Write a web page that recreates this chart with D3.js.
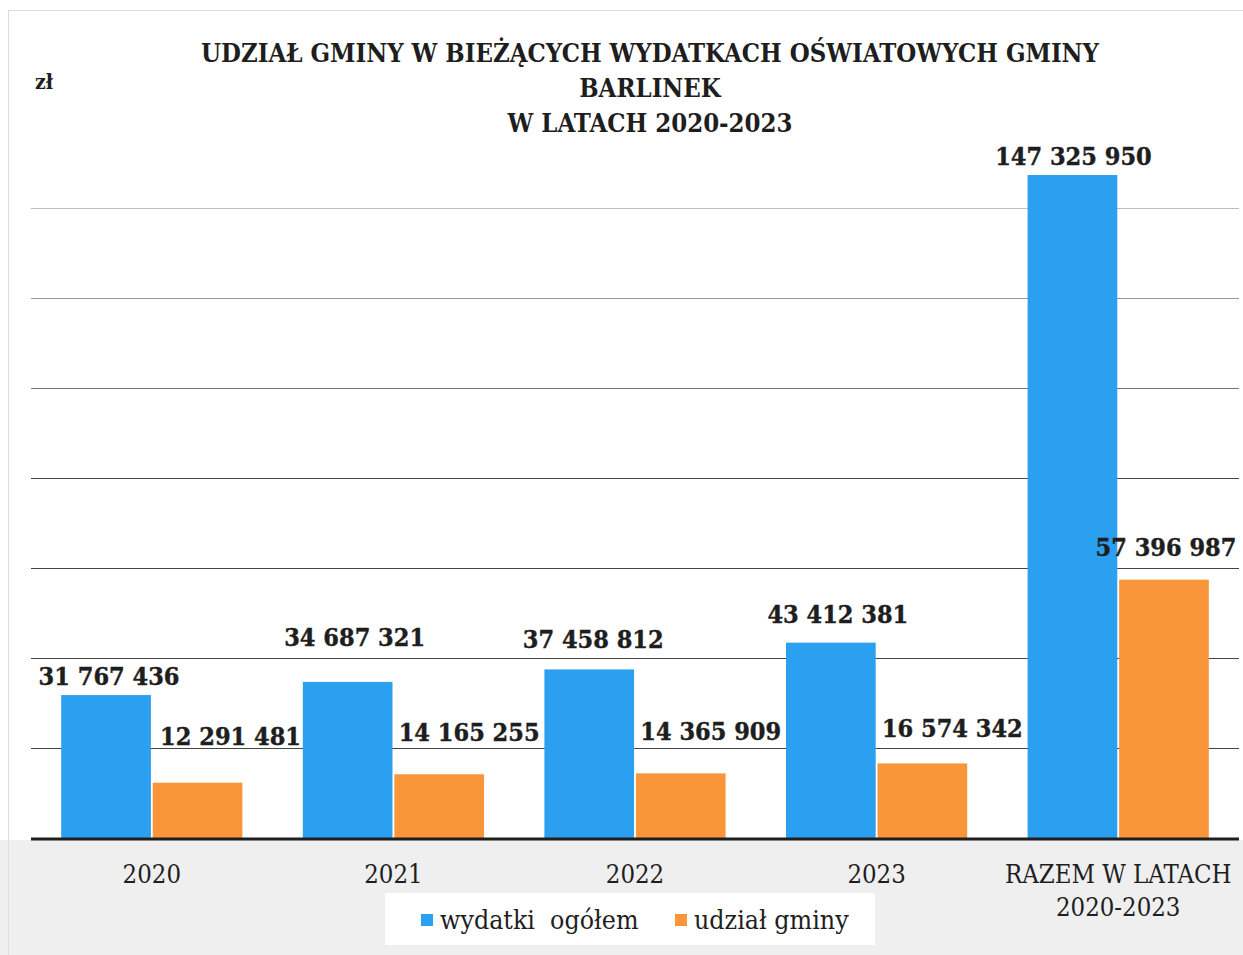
<!DOCTYPE html>
<html>
<head>
<meta charset="utf-8">
<script src="https://cdn.jsdelivr.net/npm/d3@7"></script>
<style>
  body { margin: 0; background: #fff; }
  svg { display: block; }
  text { font-family: "DejaVu Serif Condensed", "DejaVu Serif", serif; fill: #1e1e1e; }
</style>
</head>
<body>
<div id="chart"></div>
<script>
// data
var categories = ["2020", "2021", "2022", "2023", "RAZEM W LATACH|2020-2023"];
var wydatki = [31767436, 34687321, 37458812, 43412381, 147325950];
var udzial = [12291481, 14165255, 14365909, 16574342, 57396987];
var seriesNames = ["wydatki  ogółem", "udział gminy"];
var titleLines = ["UDZIAŁ GMINY W BIEŻĄCYCH WYDATKACH OŚWIATOWYCH GMINY", "BARLINEK", "W LATACH 2020-2023"];
var yTicks = [20000000, 40000000, 60000000, 80000000, 100000000, 120000000, 140000000];

// the labels were dragged by hand in the original, so nudge them
var blueNudge = [[3, -10], [7, -36], [4, -21], [7, -20], [1, -10]];
var orangeNudge = [[33, -38], [30, -33], [30, -33], [30, -26], [2, -24]];

var colors = ["#2b9ff0", "#f9963a"];

var W = 1243, H = 955;
var svg = d3.select("#chart").append("svg")
    .attr("width", W)
    .attr("height", H);

// scan-ish backdrop
svg.append("rect").attr("x", 0).attr("y", 0).attr("width", W).attr("height", H).attr("fill", "#ffffff");
svg.append("rect").attr("x", 0).attr("y", 840).attr("width", W).attr("height", H - 840).attr("fill", "#efefef");
svg.append("rect").attr("x", 8.5).attr("y", 10.5).attr("width", W - 8).attr("height", H - 10)
    .attr("fill", "none").attr("stroke", "#dcdcdc");

var x0 = d3.scaleBand()
    .domain(categories)
    .range([31, 1239])
    .paddingInner(0.25)
    .paddingOuter(0.125);

var x1 = d3.scaleBand()
    .domain([0, 1])
    .range([0, x0.bandwidth()])
    .paddingInner(0.02);

var y = d3.scaleLinear()
    .domain([0, 160000000])
    .range([838, 118]);

// gridlines (the scan fades them towards the top)
svg.append("g")
    .selectAll("line")
    .data(yTicks)
    .enter()
    .append("line")
    .attr("x1", 31)
    .attr("x2", 1239)
    .attr("y1", function(d) { return Math.round(y(d)) + 0.5; })
    .attr("y2", function(d) { return Math.round(y(d)) + 0.5; })
    .attr("stroke", "#444")
    .attr("stroke-opacity", function(d, i) { return i < 4 ? 1 : 0.75 - (i - 4) * 0.2; })
    .attr("stroke-width", 1.2);

var rows = categories.map(function(c, i) { return {cat: c, i: i, vals: [wydatki[i], udzial[i]]}; });

// bars
var groups = svg.selectAll(".grp")
    .data(rows)
    .enter()
    .append("g")
    .attr("transform", function(d) { return "translate(" + x0(d.cat) + ",0)"; });

groups.selectAll("rect")
    .data(function(d) { return d.vals.map(function(v, k) { return {v: v, k: k}; }); })
    .enter()
    .append("rect")
    .attr("x", function(d) { return x1(d.k); })
    .attr("width", x1.bandwidth())
    .attr("y", function(d) { return y(d.v); })
    .attr("height", function(d) { return y(0) - y(d.v); })
    .attr("fill", function(d) { return colors[d.k]; });

// value labels
var fmt = function(v) { return d3.format(",")(v).replace(/,/g, " "); };
groups.each(function(d) {
    var g = d3.select(this);
    [blueNudge, orangeNudge].forEach(function(nudge, k) {
        g.append("text")
            .attr("x", x1(k) + x1.bandwidth() / 2 + nudge[d.i][0])
            .attr("y", y(d.vals[k]) + nudge[d.i][1])
            .attr("text-anchor", "middle")
            .style("font-size", "25px")
            .style("font-weight", "bold")
            .style("stroke", "#1e1e1e")
            .style("stroke-width", "0.4px")
            .text(fmt(d.vals[k]));
    });
});

// x axis
svg.append("line")
    .attr("x1", 31).attr("x2", 1239)
    .attr("y1", 839).attr("y2", 839)
    .attr("stroke", "#1e1e1e")
    .attr("stroke-width", 3);

var xAxis = svg.append("g")
    .attr("transform", "translate(0,839)")
    .call(d3.axisBottom(x0).tickSize(0).tickFormat(""));
xAxis.select(".domain").remove();
xAxis.selectAll(".tick").each(function(d) {
    var parts = d.split("|");
    var t = d3.select(this).append("text")
        .attr("text-anchor", "middle")
        .style("font-size", "25.5px");
    parts.forEach(function(p, j) {
        t.append("tspan").attr("x", 0).attr("y", 44 + j * 33).text(p);
    });
});

// title
svg.append("text")
    .attr("text-anchor", "middle")
    .style("font-size", "25.5px")
    .style("font-weight", "bold")
    .selectAll("tspan")
    .data(titleLines)
    .enter()
    .append("tspan")
    .attr("x", 650)
    .attr("y", function(d, i) { return 62 + i * 35; })
    .text(function(d) { return d; });

// unit
svg.append("text")
    .attr("x", 35).attr("y", 89)
    .style("font-size", "21px")
    .style("font-weight", "bold")
    .text("zł");

// legend
var legend = svg.append("g");
legend.append("rect")
    .attr("x", 385).attr("y", 893).attr("width", 490).attr("height", 52)
    .attr("fill", "#ffffff");
var legX = [421, 675];
seriesNames.forEach(function(n, k) {
    legend.append("rect")
        .attr("x", legX[k]).attr("y", 914).attr("width", 12).attr("height", 12)
        .attr("fill", colors[k]);
    legend.append("text")
        .attr("x", legX[k] + 19).attr("y", 929)
        .style("font-size", "26.5px")
        .attr("xml:space", "preserve")
        .text(n);
});
</script>
</body>
</html>
